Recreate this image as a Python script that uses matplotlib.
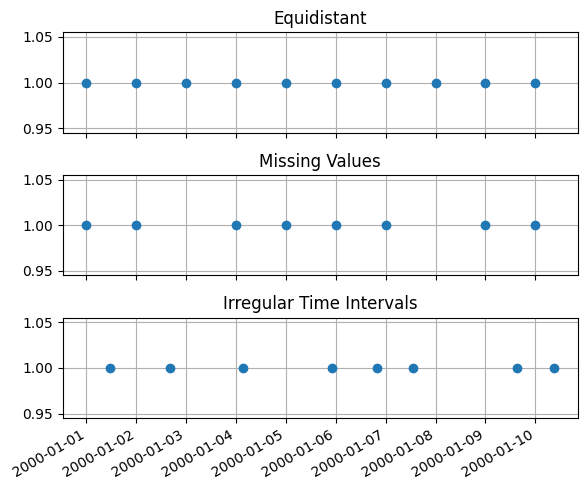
import matplotlib

matplotlib.use("Agg")
import matplotlib.pyplot as plt
import numpy as np

equidistant_dates = [f"2000-01-{d:02d}" for d in range(1, 11)]
equidistant_values = [1.0] * 10

missing_dates = ["2000-01-01", "2000-01-02", "2000-01-04", "2000-01-05",
                 "2000-01-06", "2000-01-07", "2000-01-09", "2000-01-10"]
missing_values = [1.0] * 8

irregular_dates = ["2000-01-01T11:31", "2000-01-02T16:19", "2000-01-04T03:36",
                   "2000-01-05T22:19", "2000-01-06T19:55", "2000-01-07T12:58",
                   "2000-01-09T15:22", "2000-01-10T09:07"]
irregular_values = [1.0] * 8

panels = [
    ("Equidistant", equidistant_dates, equidistant_values),
    ("Missing Values", missing_dates, missing_values),
    ("Irregular Time Intervals", irregular_dates, irregular_values),
]

fig, axes = plt.subplots(3, 1, figsize=(6, 5), dpi=100, sharex=True)
for ax, (title, dates, values) in zip(axes, panels):
    ax.plot(np.array(dates, dtype="datetime64[m]"), values, "o")
    ax.set_title(title)
    ax.grid(True)

fig.autofmt_xdate()
fig.tight_layout()
fig.savefig("out.png", dpi=100, bbox_inches="tight")
